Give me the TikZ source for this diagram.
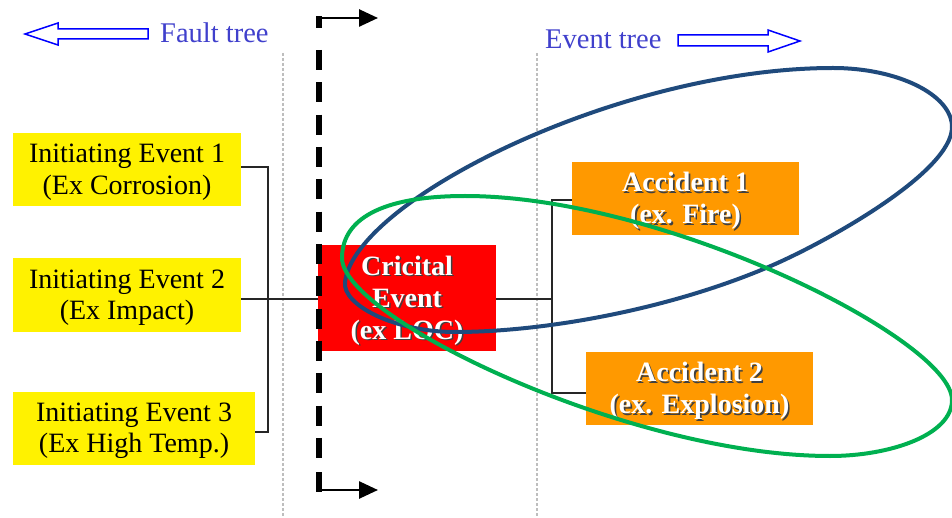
\documentclass[tikz,border=0pt]{standalone}
\usepackage{fontspec}
\setmainfont{Liberation Serif}
\usetikzlibrary{arrows.meta}
\definecolor{labelblue}{HTML}{4040CC}
\definecolor{arrowblue}{HTML}{0000FF}
\definecolor{accorange}{HTML}{FF9900}
\definecolor{ringblue}{HTML}{1F4A7C}
\definecolor{ringgreen}{HTML}{00B050}
\definecolor{sepgray}{HTML}{BEBEBE}
\tikzset{
  boxfont/.style={font=\fontsize{28}{31.5}\selectfont},
  initbox/.style={fill=yellow, inner sep=0pt, minimum height=73pt},
  inittxt/.style={boxfont, align=center, text=black, inner sep=0pt},
  critbox/.style={fill=red, inner sep=0pt, minimum width=178pt, minimum height=106pt},
  accbox/.style={fill=accorange, inner sep=0pt, minimum width=227pt, minimum height=73pt},
  shadetxt/.style={font=\fontsize{28}{32}\selectfont\bfseries, text=black!75, align=center, inner sep=0pt},
  whitetxt/.style={font=\fontsize{28}{32}\selectfont\bfseries, text=white, align=center, inner sep=0pt},
  link/.style={line width=1.3pt, black!85},
  separator/.style={sepgray, line width=1.8pt, dash pattern=on 3pt off 2pt},
  blockarrow/.style={draw=arrowblue, line width=1.5pt, fill=white, line join=miter},
  tree label/.style={font=\fontsize{28.5}{32}\selectfont, text=labelblue, anchor=base west, inner sep=0pt},
  ring/.style={line width=4pt},
}
\begin{document}
\begin{tikzpicture}[x=1pt,y=-1pt]
\useasboundingbox (0,0) rectangle (952,518);

% region separators
\draw[separator] (283,53) -- (283,518);
\draw[separator] (537,53) -- (537,518);

% direction labels with hollow block arrows
\draw[blockarrow] (25,34) -- (58,23) -- (58,29) -- (148,29) -- (148,39) -- (58,39) -- (58,45) -- cycle;
\node[tree label] (ftlabel) at (160,43) {Fault tree};
\node[tree label] (etlabel) at (545,49) {Event tree};
\draw[blockarrow] (678,35) -- (768,35) -- (768,30) -- (800,41) -- (768,52) -- (768,46) -- (678,46) -- cycle;

% initiating events
\node[initbox, minimum width=228pt] (ie1) at (127,169.5) {};
\node[initbox, minimum width=228pt] (ie2) at (127,295) {};
\node[initbox, minimum width=242pt] (ie3) at (134,428.5) {};
\node[inittxt] (ie1t) at ([shift={(0,2.5)}]ie1.center) {Initiating Event 1\\(Ex Corrosion)};
\node[inittxt] (ie2t) at ([shift={(0,2.5)}]ie2.center) {Initiating Event 2\\(Ex Impact)};
\node[inittxt] (ie3t) at ([shift={(0,2.5)}]ie3.center) {Initiating Event 3\\(Ex High Temp.)};

\coordinate (jl1) at (268,167);
\coordinate (jl3) at (268,432);
\coordinate (jr) at (552,299);
\coordinate (jr1) at (552,200);
\coordinate (jr2) at (552,393);

% fault tree connectors
\draw[link] (ie1.east |- jl1) -- (jl1) -- (jl3) -- (ie3.east |- jl3);
\draw[link] (ie2.east |- 0,299) -- (318,299);

\node[critbox] (crit) at (407,298) {};
\node[accbox] (acc1) at (685.5,198.5) {};
\node[accbox] (acc2) at (699.5,388.5) {};

% event tree connectors
\draw[link] (crit.east |- jr) -- (jr);
\draw[link] (acc1.west |- jr1) -- (jr1) -- (jr2) -- (acc2.west |- jr2);

% shadowed labels
\node[shadetxt] (crits) at ([shift={(1.6,4.1)}]crit.center) {Cricital\\Event\\(ex LOC)};
\node[whitetxt] (critt) at ([shift={(0,2.5)}]crit.center) {Cricital\\Event\\(ex LOC)};
\node[shadetxt] (acc1s) at ([shift={(1.6,4.1)}]acc1.center) {Accident 1\\(ex. Fire)};
\node[whitetxt] (acc1t) at ([shift={(0,2.5)}]acc1.center) {Accident 1\\(ex. Fire)};
\node[shadetxt] (acc2s) at ([shift={(1.6,4.1)}]acc2.center) {Accident 2\\(ex. Explosion)};
\node[whitetxt] (acc2t) at ([shift={(0,2.5)}]acc2.center) {Accident 2\\(ex. Explosion)};

% boundary of the loss-of-containment event
\coordinate (bt) at (319,18);
\coordinate (bb) at (319,490);
\draw[line width=5.5pt] (319,16.5) -- (319,28);
\draw[line width=5.5pt, dash pattern=on 20pt off 12.33pt] (319,50) -- (319,459);
\draw[line width=5.5pt] (319,472) -- (319,491.5);
\draw[line width=2.6pt, -{Triangle[length=19pt,width=17pt]}] (bt) -- (378,18);
\draw[line width=2.6pt, -{Triangle[length=19pt,width=17pt]}] (bb) -- (378,490);

% grouping rings
\draw[ring, ringblue]
  (345,282) .. controls (355,200) and (620,68) .. (833,68)
  .. controls (898,68) and (952,95) .. (952,127)
  .. controls (952,172) and (828,241) .. (773,265)
  .. controls (672,309) and (545,332) .. (455,332)
  .. controls (395,332) and (342,305) .. cycle;
\draw[ring, ringgreen]
  (342,258) .. controls (342,215) and (390,196) .. (465,196)
  .. controls (665,196) and (952,340) .. (952,400)
  .. controls (952,435) and (890,456) .. (830,456)
  .. controls (630,456) and (342,318) .. cycle;
\end{tikzpicture}
\end{document}
